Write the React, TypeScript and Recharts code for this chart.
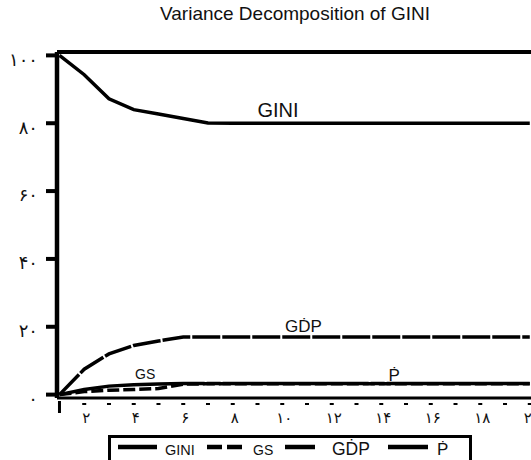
import React from 'react';
import {
  LineChart,
  Line,
  XAxis,
  YAxis,
  Legend,
  ReferenceLine,
  ReferenceDot,
} from 'recharts';

// periods 1..20
const periods = [1, 2, 3, 4, 5, 6, 7, 8, 9, 10, 11, 12, 13, 14, 15, 16, 17, 18, 19, 20];

const gini = [100, 94.3, 87.2, 84.0, 82.7, 81.4, 80.1, 80.0, 80.0, 80.0, 80.0, 80.0, 80.0, 80.0, 80.0, 80.0, 80.0, 80.0, 80.0, 80.0];
const gs = [0, 0.9, 1.3, 1.5, 1.8, 3.1, 3.2, 3.2, 3.2, 3.2, 3.2, 3.2, 3.2, 3.2, 3.2, 3.2, 3.2, 3.2, 3.2, 3.2];
const gdp = [0, 7.5, 12.0, 14.5, 15.8, 17.0, 17.0, 17.0, 17.0, 17.0, 17.0, 17.0, 17.0, 17.0, 17.0, 17.0, 17.0, 17.0, 17.0, 17.0];
const pdot = [0, 1.5, 2.5, 2.9, 3.1, 3.3, 3.3, 3.3, 3.3, 3.3, 3.3, 3.3, 3.3, 3.3, 3.3, 3.3, 3.3, 3.3, 3.3, 3.3];

const yTicks = [0, 20, 40, 60, 80, 100];
const seriesNames = ['GINI', 'GS', 'GḊP', 'Ṗ'];

const data = periods.map((p, i) => ({
  period: p,
  gini: gini[i],
  gs: gs[i],
  gdp: gdp[i],
  pdot: pdot[i],
}));

const persianDigits = ['۰', '۱', '۲', '۳', '۴', '۵', '۶', '۷', '۸', '۹'];
const toPersian = (n: number) =>
  String(n)
    .split('')
    .map((d) => persianDigits[Number(d)] ?? d)
    .join('');

const SANS = '"Liberation Sans", Arial, sans-serif';

const PeriodTick = (props: any) => {
  const { x, y, payload } = props;
  const v = payload.value as number;
  return (
    <g>
      {v === 1 ? (
        <rect x={x - 1.5} y={y + 3} width={3} height={12} fill="#000" />
      ) : (
        <rect x={x - 2} y={y + 5} width={4} height={2} fill="#000" />
      )}
      {v % 2 === 0 && (
        <text x={x + 2} y={y + 25} textAnchor="middle" fontSize={15} fontFamily="DejaVu Sans" fill="#111">
          {toPersian(v)}
        </text>
      )}
    </g>
  );
};

const renderLegend = () => {
  // line start, line length, dash, text x, font size
  const items = [
    { lx: 10, len: 39, dash: undefined, tx: 57, fs: 14.5 },
    { lx: 99, len: 35, dash: '15 5', tx: 145, fs: 14 },
    { lx: 177, len: 30, dash: undefined, tx: 224, fs: 17.5 },
    { lx: 280, len: 40, dash: undefined, tx: 329, fs: 17 },
  ];
  return (
    <svg width={364} height={40}>
      <rect x={1.5} y={1.5} width={361} height={40} fill="#fff" stroke="#000" strokeWidth={3} />
      {items.map((it, i) => (
        <g key={seriesNames[i]}>
          <line x1={it.lx} x2={it.lx + it.len} y1={12} y2={12} stroke="#000" strokeWidth={4.5} strokeDasharray={it.dash} />
          <text x={it.tx} y={20} fontSize={it.fs} fontFamily={SANS} fill="#111">
            {seriesNames[i]}
          </text>
        </g>
      ))}
    </svg>
  );
};

const seriesLabel = (value: string, size: number) => ({
  value,
  position: 'center' as const,
  fontSize: size,
  fontFamily: SANS,
  fill: '#111',
});

export default function App() {
  return (
    <div style={{ position: 'absolute', left: 0, top: 0, width: 531, height: 460, overflow: 'hidden', background: '#fff' }}>
      <div
        style={{
          position: 'absolute',
          left: 0,
          top: 3,
          width: 590,
          textAlign: 'center',
          fontFamily: SANS,
          fontSize: 19,
          color: '#111',
          lineHeight: 'normal',
        }}
      >
        Variance Decomposition of GINI
      </div>
      <LineChart width={600} height={460} data={data} margin={{ top: 52, right: 43, bottom: 32, left: 0 }}>
        <XAxis
          dataKey="period"
          type="number"
          domain={[0.9, 21.1]}
          ticks={periods}
          interval={0}
          allowDataOverflow
          height={30}
          axisLine={{ stroke: '#000', strokeWidth: 3 }}
          tickLine={false}
          tickSize={0}
          tickMargin={0}
          tick={<PeriodTick />}
        />
        <YAxis
          type="number"
          domain={[-1, 101]}
          ticks={yTicks}
          allowDataOverflow
          width={57}
          axisLine={{ stroke: '#000', strokeWidth: 4.5 }}
          tickLine={{ stroke: '#000', strokeWidth: 4 }}
          tickSize={11}
          tickMargin={8}
          tickFormatter={toPersian}
          tick={{ fontSize: 18, fontFamily: 'DejaVu Sans', fill: '#111', dy: 4 }}
        />
        <ReferenceLine y={101} stroke="#000" strokeWidth={4} />
        <Line dataKey="gini" name={seriesNames[0]} type="linear" stroke="#000" strokeWidth={3.5} dot={false} isAnimationActive={false} />
        <Line dataKey="gdp" name={seriesNames[2]} type="linear" stroke="#000" strokeWidth={3.5} strokeDasharray="28 2" dot={false} isAnimationActive={false} />
        <Line dataKey="gs" name={seriesNames[1]} type="linear" stroke="#000" strokeWidth={3.5} strokeDasharray="12 4" dot={false} isAnimationActive={false} />
        <Line dataKey="pdot" name={seriesNames[3]} type="linear" stroke="#000" strokeWidth={3.5} strokeDasharray="146 2 14 2" dot={false} isAnimationActive={false} />
        <ReferenceDot x={9.83} y={83.8} r={0} fill="none" stroke="none" label={seriesLabel('GINI', 20)} />
        <ReferenceDot x={10.86} y={20.1} r={0} fill="none" stroke="none" label={seriesLabel('GḊP', 17)} />
        <ReferenceDot x={4.46} y={6.2} r={0} fill="none" stroke="none" label={seriesLabel('GS', 14)} />
        <ReferenceDot x={14.52} y={5.9} r={0} fill="none" stroke="none" label={seriesLabel('Ṗ', 17)} />
        <Legend
          layout="horizontal"
          verticalAlign="middle"
          align="center"
          wrapperStyle={{ left: 108, top: 435, width: 364, height: 40 }}
          content={renderLegend}
        />
      </LineChart>
    </div>
  );
}
